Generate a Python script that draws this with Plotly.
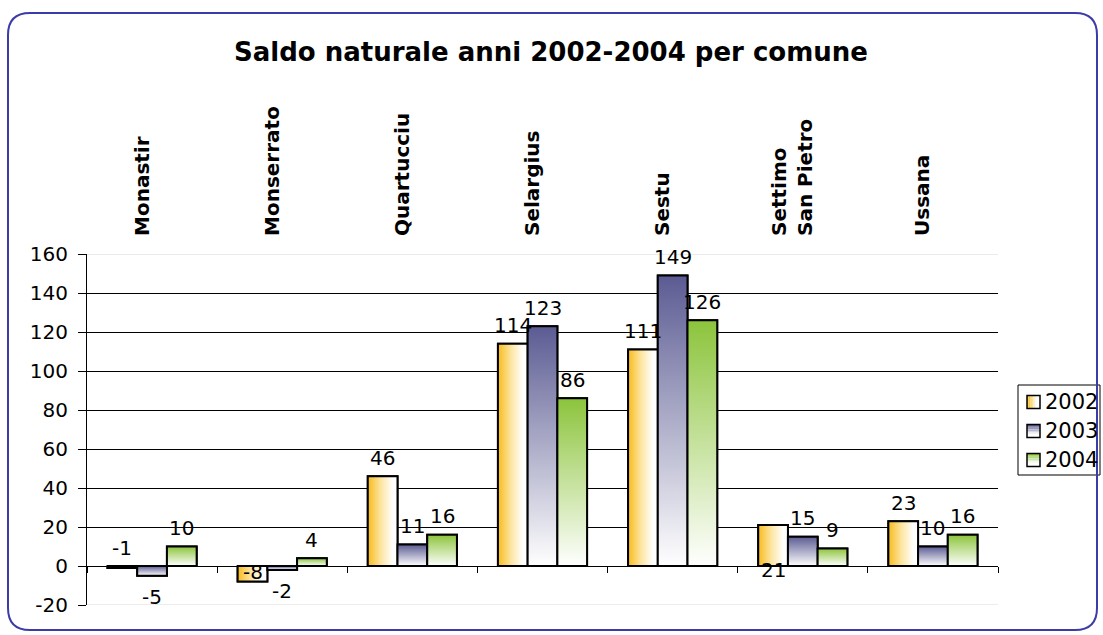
import plotly.graph_objects as go

# --- data -----------------------------------------------------------------
comuni = ["Monastir", "Monserrato", "Quartucciu", "Selargius", "Sestu",
          "Settimo<br>San Pietro", "Ussana"]
anni = ["2002", "2003", "2004"]
saldo_2002 = [-1, -8, 46, 114, 111, 21, 23]
saldo_2003 = [-5, -2, 11, 123, 149, 15, 10]
saldo_2004 = [10, 4, 16, 86, 126, 9, 16]
y_ticks = [-20, 0, 20, 40, 60, 80, 100, 120, 140, 160]

serie = {"2002": saldo_2002, "2003": saldo_2003, "2004": saldo_2004}

# --- page geometry ----------------------------------------------------------
W, H = 1103, 635
ML, MR, MT, MB = 87, 105, 254, 30
PW, PH = W - ML - MR, H - MT - MB


def to_paper(px, py):
    return (px - ML) / PW, (H - MB - py) / PH


def blend(c, t):
    """Mix hex colour c with white; t=0 -> c, t=1 -> white."""
    r, g, b = (int(c[k:k + 2], 16) for k in (1, 3, 5))
    mix = lambda v: int(round(v + (255 - v) * t))
    return "rgb(%d,%d,%d)" % (mix(r), mix(g), mix(b))


# --- styles ---------------------------------------------------------------
FONT = "DejaVu Sans, Verdana, sans-serif"
stili = {
    "2002": dict(kind="horizontal", base="#f8bb1c", swatch="#fcd66e",
                 scale=[[0, "#f8bb1c"], [0.45, "#fde6a4"], [0.85, "#ffffff"], [1, "#ffffff"]]),
    "2003": dict(kind="vertical", base="#5b5b93", swatch="#a5a5c6",
                 scale=[[0, "#ffffff"], [1, "#5b5b93"]]),
    "2004": dict(kind="vertical", base="#8cc43c", swatch="#c4e394",
                 scale=[[0, "#ffffff"], [1, "#8cc43c"]]),
}
GAP = 0.315
BW = (1 - GAP) / 3          # width of one bar in category units
OUTLINE = 2

fig = go.Figure()

# base bars
for j, anno in enumerate(anni):
    fig.add_trace(go.Bar(
        x=list(range(len(comuni))), y=serie[anno], name=anno,
        width=BW, offset=(j - 1.5) * BW,
        marker=dict(color=stili[anno]["swatch"],
                    line=dict(color="black", width=OUTLINE)),
        hoverinfo="skip", showlegend=False,
    ))

# gradient faces drawn over each bar
for j, anno in enumerate(anni):
    for i, v in enumerate(serie[anno]):
        x0 = i + (j - 1.5) * BW
        x1 = x0 + BW
        fig.add_trace(go.Scatter(
            x=[x0, x1, x1, x0, x0], y=[0, 0, v, v, 0],
            mode="lines", fill="toself",
            fillgradient=dict(type=stili[anno]["kind"],
                              colorscale=stili[anno]["scale"]),
            line=dict(color="black", width=OUTLINE),
            showlegend=False, hoverinfo="skip",
        ))

# value labels
speciali = {
    ("2002", 0): (0, 18),     # -1
    ("2002", 1): (0, -6),     # -8
    ("2002", 5): (0, -4),     # 21
}
for j, anno in enumerate(anni):
    for i, v in enumerate(serie[anno]):
        xc = i + (j - 1) * BW
        if (anno, i) in speciali:
            yv, shift = speciali[(anno, i)]
        elif v < 0:
            yv, shift = v, -21
        else:
            yv, shift = v, 18.5
        fig.add_annotation(
            x=xc, y=yv, xref="x", yref="y", text=str(v), showarrow=False,
            yanchor="middle", xanchor="center", yshift=shift,
            font=dict(family=FONT, size=20, color="black"),
        )

# light border lines at the top and bottom of the plot area
for t in (y_ticks[0], y_ticks[-1]):
    fig.add_shape(type="line", xref="paper", yref="y", x0=0, x1=1, y0=t, y1=t,
                  line=dict(color="#d8d8d8", width=1), layer="below")

# legend box with gradient swatches
LX0, LX1, LY0, LY1 = 1018, 1100, 385, 475
ax0, ay0 = to_paper(LX0, LY0)
ax1, ay1 = to_paper(LX1, LY1)
fig.add_shape(type="rect", xref="paper", yref="paper", x0=ax0, x1=ax1, y0=ay1, y1=ay0,
              line=dict(color="black", width=1), fillcolor="white", layer="above")
row_y = [402, 431, 460]
SW, STRIPS = 13, 8
for anno, ry in zip(anni, row_y):
    st = stili[anno]
    sx0, sy0 = 1027, ry - SW / 2
    for k in range(STRIPS):
        t = k / (STRIPS - 1)
        col = blend(st["base"], min(1.0, t * 1.3))
        if st["kind"] == "horizontal":
            a = to_paper(sx0 + SW * k / STRIPS, sy0)
            b = to_paper(sx0 + SW * (k + 1) / STRIPS, sy0 + SW)
        else:
            a = to_paper(sx0, sy0 + SW * k / STRIPS)
            b = to_paper(sx0 + SW, sy0 + SW * (k + 1) / STRIPS)
        fig.add_shape(type="rect", xref="paper", yref="paper",
                      x0=a[0], x1=b[0], y0=b[1], y1=a[1],
                      line=dict(width=0), fillcolor=col, layer="above")
    a = to_paper(sx0, sy0)
    b = to_paper(sx0 + SW, sy0 + SW)
    fig.add_shape(type="rect", xref="paper", yref="paper",
                  x0=a[0], x1=b[0], y0=b[1], y1=a[1],
                  line=dict(color="black", width=1.5), fillcolor="rgba(0,0,0,0)",
                  layer="above")
    tx, ty = to_paper(1043, ry)
    fig.add_annotation(x=tx, y=ty, xref="paper", yref="paper", text=anno,
                       showarrow=False, xanchor="left", yanchor="middle",
                       font=dict(family=FONT, size=21, color="black"))

# rounded outer frame
L, R, T, B, RAD = 8, 1097, 13, 630, 22
pts = [
    ("M", (L + RAD, T)), ("L", (R - RAD, T)), ("Q", (R, T), (R, T + RAD)),
    ("L", (R, B - RAD)), ("Q", (R, B), (R - RAD, B)),
    ("L", (L + RAD, B)), ("Q", (L, B), (L, B - RAD)),
    ("L", (L, T + RAD)), ("Q", (L, T), (L + RAD, T)),
]
path = ""
for cmd, *coords in pts:
    path += cmd + " " + " ".join("%.5f,%.5f" % to_paper(*c) for c in coords) + " "
path += "Z"
fig.add_shape(type="path", xref="paper", yref="paper", path=path,
              line=dict(color="#3c3ca8", width=2), fillcolor="rgba(0,0,0,0)",
              layer="above")

bounds = [k - 0.5 for k in range(len(comuni) + 1)]
label_off = 10 / (PW / len(comuni))
y_range = [y_ticks[0], y_ticks[-1]]

fig.update_layout(
    width=W, height=H,
    margin=dict(l=ML, r=MR, t=MT, b=MB, pad=0, autoexpand=False),
    paper_bgcolor="white", plot_bgcolor="white",
    barmode="overlay",
    showlegend=False,
    font=dict(family=FONT, color="black"),
    title=dict(text="Saldo naturale anni 2002-2004 per comune",
               font=dict(family=FONT, size=26, weight="bold", color="black"),
               x=551 / W, xref="container", xanchor="center",
               y=1 - 52 / H, yref="container", yanchor="middle"),
    xaxis=dict(range=[-0.5, len(comuni) - 0.5], tickvals=bounds,
               showticklabels=False, ticks="outside", ticklen=6,
               tickcolor="black", showline=True, linecolor="black", linewidth=1,
               showgrid=False, zeroline=False,
               anchor="free", position=(0 - y_ticks[0]) / (y_ticks[-1] - y_ticks[0])),
    xaxis2=dict(range=[-0.5, len(comuni) - 0.5], overlaying="x", side="top",
                anchor="y", tickmode="array",
                tickvals=[k - label_off for k in range(len(comuni))],
                ticktext=comuni, tickangle=-90, ticks="",
                tickfont=dict(family=FONT, size=20, weight="bold", color="black"),
                ticklabelstandoff=17,
                showline=False, showgrid=False, zeroline=False),
    yaxis=dict(range=y_range, tickmode="array", tickvals=y_ticks,
               ticktext=[str(t) for t in y_ticks],
               showgrid=False, zeroline=False, showline=True,
               linecolor="black", linewidth=1, ticks="outside", ticklen=8,
               tickcolor="black", ticklabelstandoff=6,
               tickfont=dict(family=FONT, size=20, color="black")),
    # interior grid lines only
    yaxis2=dict(range=y_range, overlaying="y", side="left", anchor="x",
                tickmode="array", tickvals=y_ticks[1:-1],
                showticklabels=False, ticks="", showline=False, zeroline=False,
                showgrid=True, gridcolor="black", gridwidth=1),
)

# an invisible trace keeps the overlaid axes rendered
fig.add_trace(go.Scatter(x=[0], y=[0], xaxis="x2", yaxis="y2", mode="markers",
                         marker=dict(opacity=0), showlegend=False,
                         hoverinfo="skip"))

fig.write_html("out.html")
